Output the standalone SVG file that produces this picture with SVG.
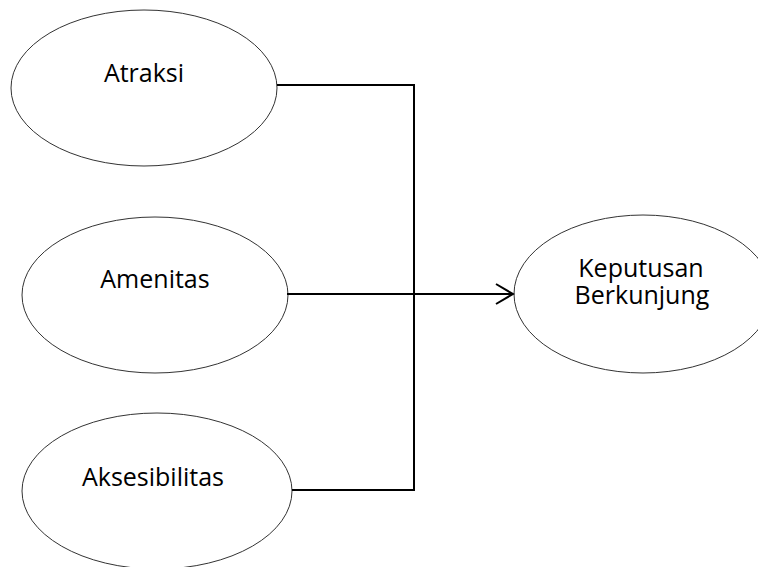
<svg xmlns="http://www.w3.org/2000/svg" width="758" height="567" viewBox="0 0 758 567">
<defs>
<style>
.node ellipse{fill:#fff;stroke:#333;stroke-width:1}
.node text{font-family:"Open Sans","Liberation Sans",sans-serif;font-size:25px;fill:#000;text-anchor:middle}
.conn{fill:none;stroke:#000;stroke-width:2}
</style>
<marker id="arr" markerWidth="20" markerHeight="24" refX="18" refY="11" orient="auto" markerUnits="userSpaceOnUse">
<path d="M1,1 L18,11 L1,21" fill="none" stroke="#000" stroke-width="2"/>
</marker>
</defs>
<rect width="758" height="567" fill="#fff"/>
<g id="atraksi" class="node">
<ellipse cx="144" cy="88" rx="133" ry="78"/>
<text x="144" y="82">Atraksi</text>
</g>
<g id="amenitas" class="node">
<ellipse cx="155" cy="295" rx="133" ry="78"/>
<text x="155" y="288">Amenitas</text>
</g>
<g id="aksesibilitas" class="node">
<ellipse cx="157" cy="491" rx="135" ry="78"/>
<text x="153" y="486">Aksesibilitas</text>
</g>
<g id="keputusan" class="node">
<ellipse cx="643" cy="294" rx="129" ry="79"/>
<text x="641" y="277">Keputusan<tspan x="642" dy="27">Berkunjung</tspan></text>
</g>
<g id="connectors">
<path class="conn" d="M277,85 H414 V490 H292"/>
<path class="conn" d="M287,294 H513" marker-end="url(#arr)"/>
</g>
</svg>
